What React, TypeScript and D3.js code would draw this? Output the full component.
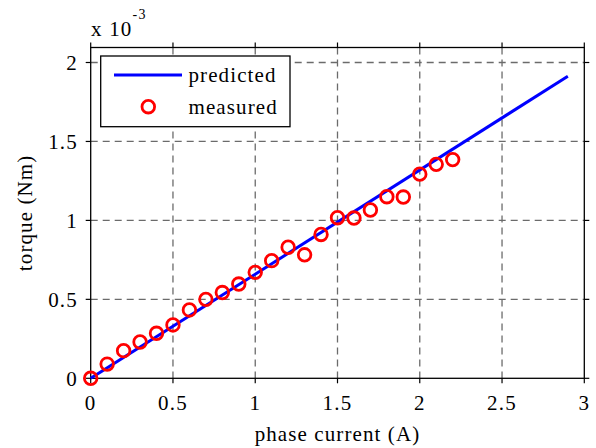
import React, { useEffect, useRef } from 'react';
import * as d3 from 'd3';

// phase current (A) of the measured points
const measuredCurrent = [0, 0.1, 0.2, 0.3, 0.4, 0.5, 0.6, 0.7, 0.8, 0.9, 1.0, 1.1, 1.2, 1.3, 1.4, 1.5, 1.6, 1.7, 1.8, 1.9, 2.0, 2.1, 2.2];
// measured torque, in units of 1e-3 Nm
const measuredTorque = [0, 0.09, 0.175, 0.23, 0.285, 0.338, 0.433, 0.5, 0.543, 0.597, 0.671, 0.745, 0.83, 0.782, 0.911, 1.017, 1.015, 1.066, 1.15, 1.148, 1.293, 1.355, 1.385];
// predicted line end points (current A, torque 1e-3 Nm)
const predictedCurrent = [0, 2.9];
const predictedTorque = [0, 1.913];

const xTicks = [0, 0.5, 1, 1.5, 2, 2.5, 3];
const yTicks = [0, 0.5, 1, 1.5, 2];
const legendLabels = ['predicted', 'measured'];

const FONT = '"Liberation Serif", "Times New Roman", serif';

export default function App() {
  const svgRef = useRef<SVGSVGElement>(null);
  const width = 596;
  const height = 448;

  useEffect(() => {
    document.body.style.margin = '0';
    const svg = d3.select(svgRef.current);
    svg.selectAll('*').remove();

    const left = 90.7, right = 584.3, top = 47.5, bottom = 378.3;

    const x = d3.scaleLinear().domain([0, 3]).range([left, right]);
    const y = d3.scaleLinear().domain([0, 2.095]).range([bottom, top]);

    const g = svg.append('g');

    // white plot area
    g.append('rect')
      .attr('x', left).attr('y', top)
      .attr('width', right - left).attr('height', bottom - top)
      .style('fill', '#fff');

    // Grid lines
    g.selectAll('.grid-x')
      .data(xTicks.filter(d => d > 0 && d < 3))
      .enter()
      .append('line')
      .attr('x1', d => x(d)).attr('x2', d => x(d))
      .attr('y1', top).attr('y2', bottom)
      .style('stroke', '#6b6b6b')
      .style('stroke-width', 1.3)
      .style('stroke-dasharray', '7,5');

    g.selectAll('.grid-y')
      .data(yTicks.filter(d => d > 0))
      .enter()
      .append('line')
      .attr('x1', left).attr('x2', right)
      .attr('y1', d => y(d)).attr('y2', d => y(d))
      .style('stroke', '#6b6b6b')
      .style('stroke-width', 1.3)
      .style('stroke-dasharray', '7,5');

    // Frame
    g.append('rect')
      .attr('x', left).attr('y', top)
      .attr('width', right - left).attr('height', bottom - top)
      .style('fill', 'none')
      .style('stroke', '#000')
      .style('stroke-width', 1.3);

    // Ticks (all four sides, outward)
    const tickLen = 5;
    xTicks.forEach(t => {
      g.append('line').attr('x1', x(t)).attr('x2', x(t)).attr('y1', bottom).attr('y2', bottom + tickLen)
        .style('stroke', '#000').style('stroke-width', 1.2);
      g.append('line').attr('x1', x(t)).attr('x2', x(t)).attr('y1', top).attr('y2', top - tickLen)
        .style('stroke', '#000').style('stroke-width', 1.2);
    });
    yTicks.forEach(t => {
      g.append('line').attr('x1', left).attr('x2', left - tickLen).attr('y1', y(t)).attr('y2', y(t))
        .style('stroke', '#000').style('stroke-width', 1.2);
      g.append('line').attr('x1', right).attr('x2', right + tickLen).attr('y1', y(t)).attr('y2', y(t))
        .style('stroke', '#000').style('stroke-width', 1.2);
    });

    // Tick labels
    g.selectAll('.xlab')
      .data(xTicks)
      .enter()
      .append('text')
      .attr('x', d => x(d))
      .attr('y', 410)
      .attr('text-anchor', 'middle')
      .style('font-family', FONT)
      .style('font-size', '21px')
      .style('letter-spacing', '1.2px')
      .text(d => String(d));

    g.selectAll('.ylab')
      .data(yTicks)
      .enter()
      .append('text')
      .attr('x', 78)
      .attr('y', d => y(d) + 7.3)
      .attr('text-anchor', 'end')
      .style('font-family', FONT)
      .style('font-size', '21px')
      .style('letter-spacing', '1.2px')
      .text(d => String(d));

    // Exponent label
    const expo = g.append('text')
      .attr('x', 91)
      .attr('y', 36)
      .style('font-family', FONT)
      .style('font-size', '21px')
      .style('letter-spacing', '1.2px');
    expo.append('tspan').text('x 10');
    expo.append('tspan').attr('dy', -17).style('font-size', '14px').text('-3');

    // Axis titles
    g.append('text')
      .attr('x', (left + right) / 2)
      .attr('y', 441)
      .attr('text-anchor', 'middle')
      .style('font-family', FONT)
      .style('font-size', '21px')
      .style('letter-spacing', '1.1px')
      .text('phase current (A)');

    g.append('text')
      .attr('transform', `translate(32, ${(top + bottom) / 2}) rotate(-90)`)
      .attr('text-anchor', 'middle')
      .style('font-family', FONT)
      .style('font-size', '21px')
      .style('letter-spacing', '1.1px')
      .text('torque (Nm)');

    // Predicted line
    const line = d3.line<number>()
      .x((d, i) => x(predictedCurrent[i]))
      .y(d => y(d));

    g.append('path')
      .datum(predictedTorque)
      .attr('d', line)
      .style('fill', 'none')
      .style('stroke', '#0000ff')
      .style('stroke-width', 3);

    // Measured points
    g.selectAll('.dot')
      .data(measuredTorque)
      .enter()
      .append('circle')
      .attr('cx', (d, i) => x(measuredCurrent[i]))
      .attr('cy', d => y(d))
      .attr('r', 6.3)
      .style('fill', 'none')
      .style('stroke', '#ff0000')
      .style('stroke-width', 2.8);

    // Legend
    const legend = g.append('g');
    legend.append('rect')
      .attr('x', 100.7).attr('y', 56)
      .attr('width', 189.3).attr('height', 70.7)
      .style('fill', '#fff')
      .style('stroke', '#000')
      .style('stroke-width', 1.3);

    legend.append('line')
      .attr('x1', 114).attr('x2', 182)
      .attr('y1', 75).attr('y2', 75)
      .style('stroke', '#0000ff')
      .style('stroke-width', 3);

    legend.append('circle')
      .attr('cx', 148.3).attr('cy', 106.7)
      .attr('r', 6.3)
      .style('fill', 'none')
      .style('stroke', '#ff0000')
      .style('stroke-width', 2.8);

    legend.selectAll('.legend-text')
      .data(legendLabels)
      .enter()
      .append('text')
      .attr('x', 188.5)
      .attr('y', (d, i) => 82 + i * 31.5)
      .style('font-family', FONT)
      .style('font-size', '21px')
      .style('letter-spacing', '1.1px')
      .text(d => d);
  }, []);

  return (
    <svg
      ref={svgRef}
      width={width}
      height={height}
      style={{ display: 'block', background: '#fff' }}
    />
  );
}
